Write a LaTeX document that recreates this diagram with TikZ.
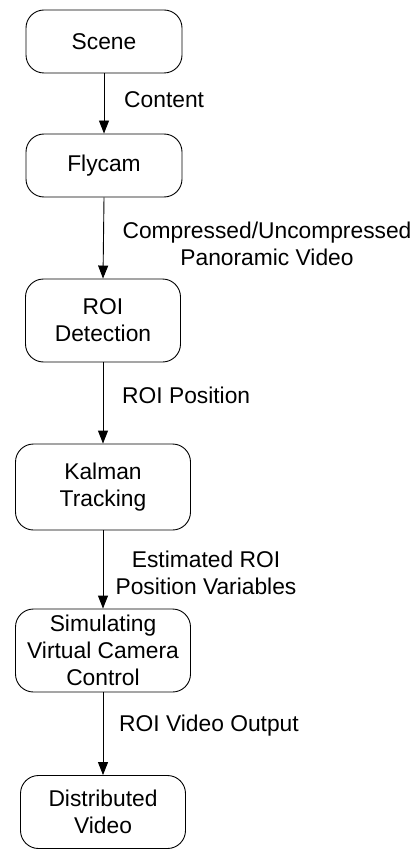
\documentclass[tikz,border=0pt]{standalone}
\usepackage{fontspec}
\setmainfont{Liberation Sans}
\usetikzlibrary{arrows.meta}
\begin{document}
\begin{tikzpicture}[x=1pt,y=-1pt,
  box/.style={draw,rounded corners=18pt,line width=0.9pt,align=center,inner sep=0pt,
    font=\fontsize{22.8}{27}\selectfont},
  lbl/.style={inner sep=0pt,align=center,font=\fontsize{22.8}{27}\selectfont},
  flow/.style={line width=0.9pt,-{Triangle[length=13pt,width=10pt]}}]
\useasboundingbox (0,0) rectangle (419,850);
\node[box,minimum width=156pt,minimum height=63pt] (scene) at (104,41.5) {Scene};
\node[box,minimum width=156pt,minimum height=63pt] (fly) at (104,165.5) {Flycam};
\node[box,minimum width=155pt,minimum height=83pt] (roi) at (103,320.5) {ROI\\Detection};
\node[box,minimum width=175pt,minimum height=86pt] (kal) at (103,487) {Kalman\\Tracking};
\node[box,minimum width=175pt,minimum height=83pt] (sim) at (103,650.5) {Simulating\\Virtual Camera\\Control};
\node[box,minimum width=165pt,minimum height=73pt] (dist) at (103,812) {Distributed\\Video};
\draw[flow] (scene.south) -- (fly.north);
\draw[flow] (fly.south) -- (roi.north);
\draw[flow] (roi.south) -- (kal.north);
\draw[flow] (kal.south) -- (sim.north);
\draw[flow] (sim.south) -- (dist.north);
\node[lbl,anchor=west] (l1) at (124,100) {Content};
\node[lbl] (l2) at (267,244) {Compressed/Uncompressed\\Panoramic Video};
\node[lbl,anchor=west] (l3) at (122,395) {ROI Position};
\node[lbl] (l4) at (206,573) {Estimated ROI\\Position Variables};
\node[lbl,anchor=west] (l5) at (119,726) {ROI Video Output};
\end{tikzpicture}
\end{document}
